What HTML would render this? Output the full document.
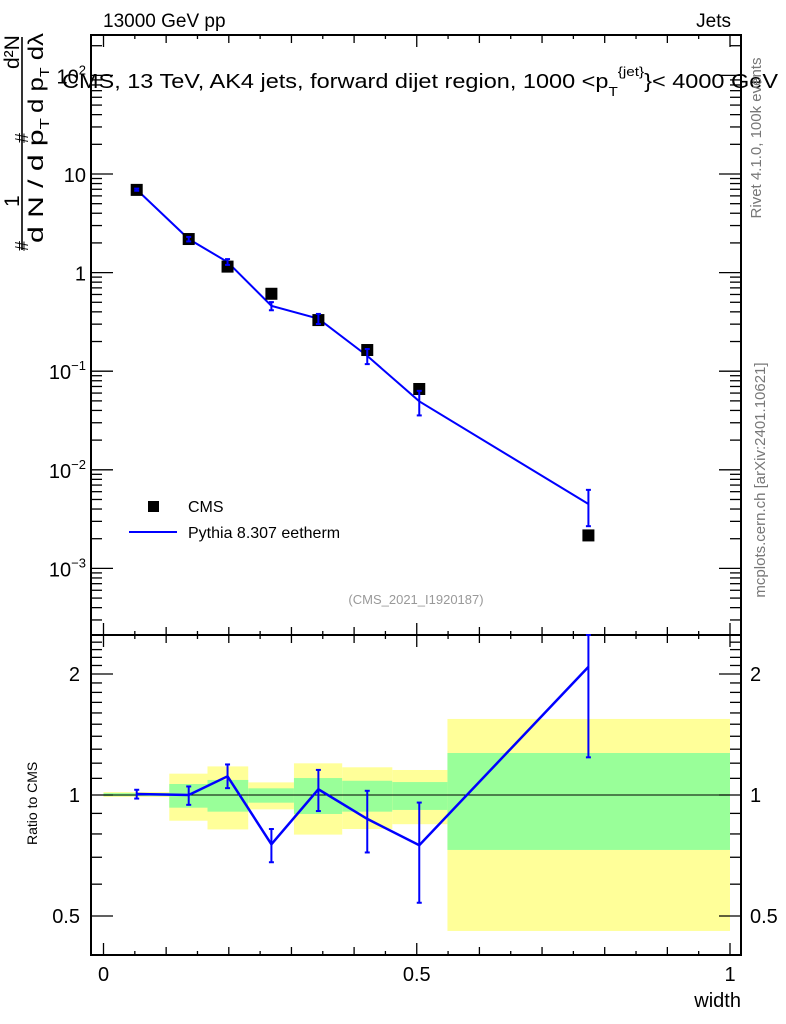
<!DOCTYPE html>
<html><head><meta charset="utf-8"><style>
html,body{margin:0;padding:0;background:#fff}
svg{display:block;font-family:"Liberation Sans",sans-serif}
</style></head><body>
<svg id="chart" width="786" height="1024" viewBox="0 0 786 1024" xmlns="http://www.w3.org/2000/svg">
<g id="bands"></g>
<g id="grid"></g>
<g id="series"></g>
<text x="103" y="27" font-size="19">13000 GeV pp</text>
<text x="731" y="27" font-size="19" text-anchor="end">Jets</text>
<text x="62" y="88" font-size="20" textLength="716" lengthAdjust="spacingAndGlyphs">CMS, 13 TeV, AK4 jets, forward dijet region, 1000 &lt;p<tspan font-size="13" dy="8">T</tspan><tspan font-size="13" dy="-20">{jet}</tspan><tspan dy="12">}&lt; 4000 GeV</tspan></text>
<text transform="translate(761,138) rotate(-90)" font-size="15" fill="#777" text-anchor="middle">Rivet 4.1.0, 100k events</text>
<text transform="translate(765,480) rotate(-90)" font-size="15" fill="#777" text-anchor="middle">mcplots.cern.ch [arXiv:2401.10621]</text>
<text x="416" y="604" font-size="13" fill="#999" text-anchor="middle">(CMS_2021_I1920187)</text>
<g font-size="21">
<line x1="22" y1="37" x2="22" y2="250" stroke="#000" stroke-width="1.6"/>
<text transform="translate(43,243) rotate(-90)" textLength="125" lengthAdjust="spacingAndGlyphs">d N / d p<tspan font-size="13" dy="6">T</tspan></text>
<text transform="translate(43,113) rotate(-90)" textLength="80" lengthAdjust="spacingAndGlyphs">d p<tspan font-size="13" dy="6">T</tspan><tspan dy="-6">  d</tspan>λ</text>
<text transform="translate(19,207) rotate(-90)">1</text>
<text transform="translate(19,69) rotate(-90)">d²N</text>
<text transform="translate(28,143) rotate(-90)" font-size="18">#</text>
<text transform="translate(28,251) rotate(-90)" font-size="18">#</text>
</g>
<text transform="translate(37,845) rotate(-90)" font-size="14">Ratio to CMS</text>
<text x="741" y="1007" font-size="20" text-anchor="end">width</text>
<g>
<rect x="148" y="501" width="11" height="11" fill="#000"/>
<text x="188" y="512" font-size="16">CMS</text>
<line x1="129" y1="532" x2="177" y2="532" stroke="#0000ff" stroke-width="2"/>
<text x="188" y="538" font-size="16">Pythia 8.307 eetherm</text>
</g>
</svg>
<script>
const xCenters=[0.053,0.136,0.198,0.268,0.343,0.421,0.504,0.774];
const binEdges=[0,0.105,0.166,0.231,0.304,0.381,0.461,0.549,1.0];
const cms=[6.9,2.19,1.15,0.61,0.33,0.164,0.066,0.00216];
const mc=[6.94,2.19,1.28,0.46,0.341,0.143,0.0495,0.0045];
const mcLo=[6.76,2.07,1.196,0.415,0.301,0.118,0.0356,0.00268];
const mcHi=[7.11,2.30,1.37,0.502,0.381,0.168,0.0632,0.00626];
const bandGreenLo=[0.994,0.93,0.909,0.957,0.897,0.909,0.918,0.73];
const bandGreenHi=[1.011,1.065,1.09,1.039,1.102,1.085,1.077,1.272];
const bandYellowLo=[0.989,0.863,0.821,0.921,0.797,0.823,0.846,0.459];
const bandYellowHi=[1.017,1.13,1.178,1.075,1.199,1.172,1.154,1.546];
const xTickLabels=["0","0.5","1"];
const ratioTickLabels=["0.5","1","2"];

const NS="http://www.w3.org/2000/svg";
const L=91,R=741,T=35,M=635,B=955;
const X=v=>103.5+v*626.5;
const Y=v=>174-(Math.log10(v)-1)*98.6;
const RY=v=>795-Math.log2(v)*121;
function mk(p,tag,at){const e=document.createElementNS(NS,tag);for(const k in at)e.setAttribute(k,at[k]);p.appendChild(e);return e;}
const bands=document.getElementById('bands'),grid=document.getElementById('grid'),ser=document.getElementById('series');
const clipR=v=>Math.max(M,Math.min(B,v));
for(let i=0;i<cms.length;i++){
  const y=mk(bands,'rect',{x:X(binEdges[i]),width:X(binEdges[i+1])-X(binEdges[i]),y:clipR(RY(bandYellowHi[i])),height:clipR(RY(bandYellowLo[i]))-clipR(RY(bandYellowHi[i])),fill:'#ffff99'});
  
  
  const g=mk(bands,'rect',{x:X(binEdges[i]),width:X(binEdges[i+1])-X(binEdges[i]),y:clipR(RY(bandGreenHi[i])),height:clipR(RY(bandGreenLo[i]))-clipR(RY(bandGreenHi[i])),fill:'#99ff99'});
  
  
}
mk(grid,'rect',{x:L,y:T,width:R-L,height:M-T,fill:'none',stroke:'#000','stroke-width':2});
mk(grid,'rect',{x:L,y:M,width:R-L,height:B-M,fill:'none',stroke:'#000','stroke-width':2});
mk(grid,'line',{x1:L,x2:R,y1:RY(1),y2:RY(1),stroke:'#000','stroke-width':1});
function tickY(y,len){mk(grid,'line',{x1:L,x2:L+len,y1:y,y2:y,stroke:'#000','stroke-width':1.3});mk(grid,'line',{x1:R,x2:R-len,y1:y,y2:y,stroke:'#000','stroke-width':1.3});}
for(let d=-4;d<=2;d++){for(let k=1;k<10;k++){const v=k*Math.pow(10,d);const y=Y(v);if(y<T||y>M)continue;tickY(y,k==1?22:11);}}
for(let d=-3;d<=2;d++){const y=Y(Math.pow(10,d));const t=mk(grid,'text',{x:86,y:y+8,'font-size':20,'text-anchor':'end'});
  if(d==0)t.textContent='1';else if(d==1)t.textContent='10';else{t.textContent='10';const s=mk(t,'tspan',{dy:-9,'font-size':13});s.textContent=d==2?'2':'−'+(-d);}
  
  }
for(let v=0.4;v<=2.55;v+=0.1){const y=RY(v);if(y<M||y>B)continue;const maj=[0.5,1,2].some(m=>Math.abs(m-v)<1e-6);tickY(y,maj?22:11);}
[0.5,1,2].forEach((v,i)=>{const y=RY(v)+7;
 const a=mk(grid,'text',{x:80,y:y,'font-size':20,'text-anchor':'end'});a.textContent=ratioTickLabels[i];
 
 
 const b=mk(grid,'text',{x:750,y:y,'font-size':20});b.textContent=ratioTickLabels[i];
 
 });
for(let i=0;i<=20;i++){const v=i*0.05,x=X(v);const len=i%10==0?12:(i%2==0?8:4);
 [[B,-1],[M,-1],[M,1],[T,1]].forEach(([y0,s])=>mk(grid,'line',{x1:x,x2:x,y1:y0,y2:y0+s*len,stroke:'#000','stroke-width':1.3}));}
[0,0.5,1].forEach((v,i)=>{const t=mk(grid,'text',{x:X(v),y:981,'font-size':20,'text-anchor':'middle'});t.textContent=xTickLabels[i];
 
 });
const pts=xCenters.map((x,i)=>X(x)+','+Y(mc[i])).join(' ');
const pl=mk(ser,'polyline',{points:pts,fill:'none',stroke:'#0000ff','stroke-width':2});


const rpts=xCenters.map((x,i)=>X(x)+','+RY(mc[i]/cms[i])).join(' ');
const rl=mk(ser,'polyline',{points:rpts,fill:'none',stroke:'#0000ff','stroke-width':2.5});


for(let i=0;i<cms.length;i++){const x=X(xCenters[i]);
 const s=mk(ser,'rect',{x:x-6,y:Y(cms[i])-6,width:12,height:12,fill:'#000'});
 
 
 [[Y(mcHi[i]),Y(mcLo[i]),T,M],[RY(mcHi[i]/cms[i]),RY(mcLo[i]/cms[i]),M,B]].forEach(([a,b,lo,hi])=>{a=Math.max(lo,a);b=Math.min(hi,b);
  const g=mk(ser,'g',{stroke:'#0000ff','stroke-width':2});
  
  
  mk(g,'line',{x1:x,x2:x,y1:a,y2:b});mk(g,'line',{x1:x-2.5,x2:x+2.5,y1:a,y2:a});mk(g,'line',{x1:x-2.5,x2:x+2.5,y1:b,y2:b});});
}
</script>
</body></html>
